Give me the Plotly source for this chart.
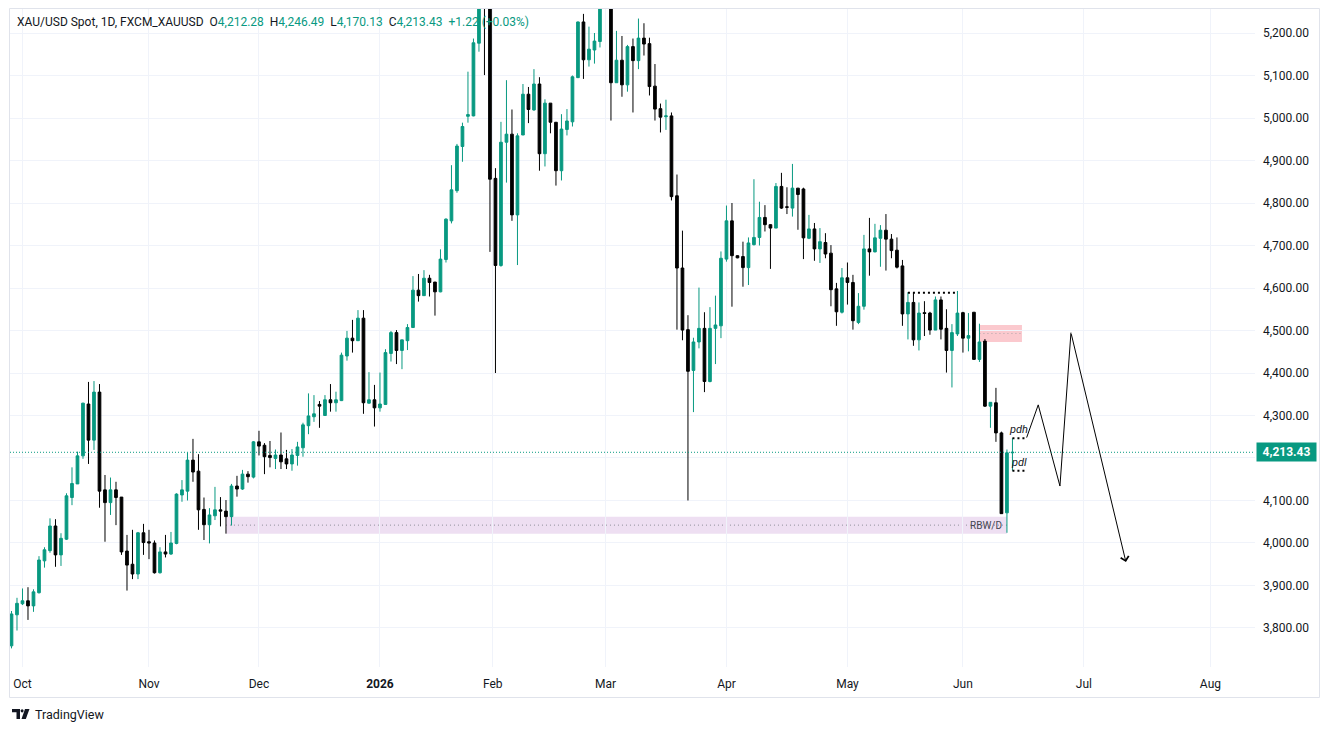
import pandas as pd
import plotly.graph_objects as go

# ---------------- categories: daily bars (weekdays, no Dec 25 / Jan 1 bars) ----------------
trade_days = pd.bdate_range("2025-09-29", "2026-06-12", freq="C",
                            holidays=["2025-12-25", "2026-01-01"])
bar_x = [(d + pd.Timedelta(hours=12)).strftime("%Y-%m-%d %H:%M") for d in trade_days]

# ---------------- OHLC series ----------------
opens = [
    3758, 3831, 3857, 3864, 3852, 3883, 3958, 3982, 4040, 3972,
    4009, 4107, 4139, 4205, 4327, 4242, 4355, 4125, 4095, 4125,
    4108, 3981, 3950, 3927, 4024, 4003, 4000, 3930, 3979, 3974,
    3999, 4113, 4122, 4195, 4169, 4079, 4043, 4064, 4078, 4075,
    4062, 4134, 4127, 4162, 4155, 4238, 4230, 4206, 4199, 4207,
    4198, 4186, 4206, 4224, 4276, 4297, 4326, 4300, 4337, 4330,
    4335, 4440, 4482, 4476, 4529, 4329, 4337, 4318, 4326, 4446,
    4495, 4453, 4476, 4507, 4595, 4582, 4623, 4614, 4591, 4667,
    4758, 4829, 4933, 5004, 5005, 5176, 5415, 5375, 4858, 4653,
    4943, 4962, 4772, 4960, 5056, 5019, 5080, 4916, 5035, 4990,
    4876, 4973, 4991, 5095, 5226, 5137, 5160, 5180, 5300, 5330,
    5083, 5136, 5078, 5168, 5135, 5188, 5175, 5075, 5022, 5003,
    5005, 4817, 4647, 4502, 4406, 4473, 4505, 4380, 4505, 4511,
    4668, 4758, 4676, 4674, 4648, 4702, 4719, 4766, 4749, 4741,
    4839, 4791, 4788, 4835, 4833, 4717, 4739, 4692, 4707, 4682,
    4598, 4543, 4624, 4613, 4519, 4557, 4692, 4685, 4717, 4736,
    4715, 4689, 4652, 4539, 4566, 4478, 4542, 4541, 4501, 4572,
    4505, 4453, 4492, 4542, 4482, 4543, 4432, 4475, 4322, 4330,
    4259, 4071, 4212.28,
]
highs = [
    3840, 3871, 3893, 3896, 3891, 3969, 3990, 4058, 4056, 4023,
    4117, 4178, 4215, 4330, 4379, 4381, 4374, 4160, 4154, 4144,
    4108, 4019, 4031, 4026, 4045, 4031, 4006, 3990, 4019, 4026,
    4117, 4148, 4213, 4245, 4209, 4107, 4082, 4132, 4108, 4101,
    4139, 4158, 4172, 4169, 4240, 4264, 4235, 4240, 4220, 4260,
    4219, 4221, 4238, 4283, 4352, 4348, 4334, 4348, 4374, 4356,
    4448, 4499, 4525, 4548, 4548, 4402, 4372, 4401, 4456, 4499,
    4501, 4478, 4515, 4628, 4633, 4642, 4631, 4614, 4691, 4764,
    4889, 4939, 4989, 5109, 5187, 5417, 5598, 5450, 4882, 4991,
    5089, 5020, 4964, 5080, 5073, 5115, 5096, 5044, 5035, 4990,
    5009, 5021, 5100, 5227, 5245, 5215, 5200, 5290, 5420, 5350,
    5205, 5193, 5172, 5187, 5234, 5223, 5189, 5127, 5034, 5043,
    5013, 4867, 4735, 4536, 4483, 4601, 4543, 4555, 4582, 4686,
    4794, 4800, 4677, 4709, 4719, 4856, 4803, 4795, 4750, 4847,
    4871, 4837, 4892, 4835, 4836, 4772, 4753, 4741, 4729, 4701,
    4612, 4647, 4660, 4631, 4588, 4725, 4765, 4751, 4748, 4774,
    4727, 4719, 4666, 4590, 4589, 4566, 4569, 4544, 4580, 4580,
    4550, 4515, 4593, 4544, 4541, 4543, 4516, 4480, 4331, 4365,
    4262, 4220, 4246.49,
]
lows = [
    3752, 3794, 3854, 3819, 3838, 3881, 3942, 3977, 3944, 3946,
    4007, 4089, 4139, 4198, 4186, 4219, 4083, 4003, 4066, 4042,
    3972, 3888, 3915, 3915, 3972, 3962, 3928, 3928, 3966, 3972,
    3997, 4097, 4100, 4144, 4031, 4007, 3999, 4054, 4039, 4022,
    4041, 4109, 4125, 4142, 4152, 4206, 4162, 4178, 4174, 4174,
    4174, 4170, 4182, 4203, 4256, 4285, 4271, 4299, 4309, 4309,
    4334, 4429, 4448, 4476, 4304, 4328, 4274, 4309, 4326, 4427,
    4421, 4409, 4454, 4506, 4568, 4582, 4580, 4535, 4590, 4660,
    4752, 4824, 4897, 4989, 5004, 5156, 5101, 4685, 4400, 4650,
    4848, 4758, 4654, 4960, 4988, 5017, 4876, 4886, 4964, 4841,
    4853, 4959, 4980, 5094, 5092, 5121, 5128, 5166, 5265, 4994,
    5083, 5050, 5062, 5013, 5115, 5147, 5053, 4994, 4966, 4972,
    4806, 4502, 4477, 4100, 4308, 4458, 4355, 4378, 4421, 4482,
    4662, 4556, 4670, 4603, 4607, 4700, 4700, 4733, 4645, 4741,
    4786, 4774, 4768, 4737, 4668, 4715, 4664, 4659, 4670, 4557,
    4511, 4540, 4561, 4502, 4515, 4549, 4629, 4684, 4650, 4641,
    4670, 4646, 4511, 4479, 4464, 4453, 4487, 4490, 4501, 4479,
    4401, 4366, 4487, 4448, 4451, 4432, 4426, 4320, 4271, 4238,
    4069, 4024, 4170.13,
]
closes = [
    3833, 3858, 3864, 3852, 3885, 3960, 3984, 4040, 3972, 4011,
    4111, 4140, 4205, 4329, 4242, 4355, 4122, 4095, 4125, 4107,
    3979, 3948, 3927, 4024, 4001, 4000, 3930, 3979, 3974, 4000,
    4115, 4125, 4195, 4167, 4078, 4043, 4066, 4078, 4075, 4062,
    4134, 4127, 4162, 4156, 4238, 4228, 4203, 4201, 4207, 4191,
    4186, 4207, 4226, 4278, 4299, 4304, 4322, 4337, 4330, 4337,
    4442, 4482, 4476, 4529, 4330, 4337, 4318, 4327, 4448, 4495,
    4453, 4478, 4507, 4595, 4582, 4623, 4613, 4591, 4668, 4762,
    4831, 4934, 4980, 5008, 5177, 5415, 5375, 4856, 4653, 4943,
    4962, 4772, 4958, 5056, 5020, 5080, 4916, 5035, 4990, 4876,
    4974, 4993, 5097, 5226, 5137, 5162, 5181, 5275, 5330, 5083,
    5136, 5078, 5168, 5135, 5188, 5174, 5074, 5021, 5002, 5005,
    4815, 4647, 4501, 4404, 4473, 4505, 4380, 4505, 4513, 4670,
    4758, 4676, 4671, 4648, 4706, 4719, 4766, 4749, 4741, 4839,
    4788, 4790, 4835, 4820, 4718, 4739, 4692, 4709, 4680, 4596,
    4544, 4624, 4613, 4523, 4557, 4692, 4685, 4718, 4736, 4715,
    4688, 4649, 4539, 4566, 4478, 4541, 4540, 4501, 4572, 4503,
    4453, 4495, 4541, 4482, 4488, 4432, 4473, 4322, 4331, 4259,
    4069, 4212.21, 4213.43,
]

# ---------------- axis ticks ----------------
month_tick_x = ["2025-10-01 12:00", "2025-11-03 12:00", "2025-12-01 12:00", "2026-01-02 12:00",
                "2026-02-02 00:00", "2026-03-02 12:00", "2026-04-01 12:00", "2026-05-01 12:00",
                "2026-06-01 12:00", "2026-07-01 12:00", "2026-08-03 12:00"]
month_tick_text = ["Oct", "Nov", "Dec", "<b>2026</b>", "Feb", "Mar", "Apr", "May", "Jun", "Jul", "Aug"]
price_ticks = [3800, 3900, 4000, 4100, 4200, 4300, 4400, 4500, 4600, 4700, 4800, 4900, 5000, 5100, 5200]
x_view = ["2025-09-29 05:30", "2026-08-13 14:30"]
y_view = [3708.2, 5256.5]

# ---------------- drawings ----------------
rbw_zone = [4022, 4062]          # purple zone low / high
supply_zone = [4473, 4513]       # pink zone low / high
supply_zone_end = "2026-06-16 05:30"
range_high_level = 4589          # dotted level over the late-May range
level_end = "2026-06-17 02:00"   # end of pdh / pdl lines
path_x = ["2026-06-17 02:00", "2026-06-19 04:30", "2026-06-25 03:20", "2026-06-29 03:20", "2026-07-13 03:20"]
path_y = [4248, 4325, 4134, 4495, 3955]

UP = "#089981"
DOWN = "#000000"
TXT = "#131722"
GRID = "#f0f3fa"
FONT = "Roboto"

# plot area in pixels
L, R, T, B = 10, 1255, 9, 667
W, H = R - L, B - T


def px(xp):
    return (xp - L) / W


def py(yp):
    return (B - yp) / H


# price-scale labels (the one under the last-price badge is covered, as on the chart)
price_tick_text = ["" if abs(v - closes[-1]) < 30 else f"{v:,.2f}" for v in price_ticks]

fig = go.Figure()
fig.add_trace(go.Candlestick(
    x=bar_x, open=opens, high=highs, low=lows, close=closes,
    increasing=dict(line=dict(color=UP, width=1), fillcolor=UP),
    decreasing=dict(line=dict(color=DOWN, width=1), fillcolor=DOWN),
    whiskerwidth=0, hoverinfo="skip", showlegend=False,
))

# projected path
fig.add_trace(go.Scatter(x=path_x[:-1], y=path_y[:-1], mode="lines",
                         line=dict(color="#000000", width=1), hoverinfo="skip", showlegend=False))

shapes = []
# purple RBW/D zone
shapes.append(dict(type="rect", xref="x", yref="y", x0=bar_x[39], x1=bar_x[181],
                   y0=rbw_zone[0], y1=rbw_zone[1], fillcolor="#eedff2", line=dict(width=0), layer="below"))
shapes.append(dict(type="line", xref="x", yref="y", x0=bar_x[39], x1=bar_x[181],
                   y0=sum(rbw_zone) / 2, y1=sum(rbw_zone) / 2,
                   line=dict(color="#8f8f99", width=1, dash="1px,3px"), layer="below"))
# pink zone
shapes.append(dict(type="rect", xref="x", yref="y", x0=bar_x[176], x1=supply_zone_end,
                   y0=supply_zone[0], y1=supply_zone[1], fillcolor="#fbc9ce", line=dict(width=0), layer="below"))
shapes.append(dict(type="line", xref="x", yref="y", x0=bar_x[176], x1=supply_zone_end,
                   y0=sum(supply_zone) / 2, y1=sum(supply_zone) / 2,
                   line=dict(color="#b0a6aa", width=1, dash="1px,3px"), layer="below"))
# dotted range high
shapes.append(dict(type="line", xref="x", yref="y", x0=bar_x[163], x1=bar_x[172],
                   y0=range_high_level, y1=range_high_level,
                   line=dict(color="#000000", width=2, dash="2px,3px")))
# pdh / pdl
for lvl in (highs[-1], lows[-1]):
    shapes.append(dict(type="line", xref="x", yref="y", x0=bar_x[182], x1=level_end,
                       y0=lvl, y1=lvl, line=dict(color="#000000", width=2, dash="2px,3px")))
# last price line
shapes.append(dict(type="line", xref="paper", yref="y", x0=0, x1=1, y0=closes[-1], y1=closes[-1],
                   line=dict(color=UP, width=1, dash="1px,2px")))
# chart frame
shapes.append(dict(type="rect", xref="paper", yref="paper", x0=px(9.5), x1=px(1319.5),
                   y0=py(697.5), y1=py(8.5), line=dict(color="#e0e3eb", width=1)))
# TradingView logo (simple glyph)
shapes.append(dict(type="path", xref="paper", yref="paper",
                   path=(f"M {px(12)} {py(709)} L {px(20)} {py(709)} L {px(20)} {py(719)} "
                         f"L {px(16.5)} {py(719)} L {px(16.5)} {py(712.3)} L {px(12)} {py(712.3)} Z"),
                   fillcolor="#131722", line=dict(width=0)))
shapes.append(dict(type="circle", xref="paper", yref="paper", x0=px(20.6), x1=px(23.6),
                   y0=py(712.4), y1=py(709.2), fillcolor="#131722", line=dict(width=0)))
shapes.append(dict(type="path", xref="paper", yref="paper",
                   path=(f"M {px(25)} {py(709)} L {px(29.5)} {py(709)} L {px(25.8)} {py(719)} "
                         f"L {px(21.5)} {py(719)} Z"),
                   fillcolor="#131722", line=dict(width=0)))

chg = closes[-1] - closes[-2]
pct = chg / closes[-2] * 100
V = f"<span style='color:{UP}'>"
header = ("XAU/USD Spot, 1D, FXCM_XAUUSD\u00a0\u00a0"
          f"O{V}{opens[-1]:,.2f}</span>\u00a0\u00a0"
          f"H{V}{highs[-1]:,.2f}</span>\u00a0\u00a0"
          f"L{V}{lows[-1]:,.2f}</span>\u00a0\u00a0"
          f"C{V}{closes[-1]:,.2f}</span>\u00a0\u00a0"
          f"{V}{chg:+.2f} ({pct:+.2f}%)</span>")

annotations = [
    dict(xref="paper", yref="paper", x=px(15), y=py(22), xanchor="left", yanchor="middle",
         text=header, showarrow=False, font=dict(family=FONT, size=12, color=TXT)),
    dict(xref="x", yref="y", x=bar_x[182], y=highs[-1], xanchor="left", yanchor="bottom",
         xshift=-5, yshift=0, text="<i>pdh</i>", showarrow=False,
         font=dict(family=FONT, size=11, color=TXT)),
    dict(xref="x", yref="y", x=bar_x[182], y=lows[-1], xanchor="left", yanchor="bottom",
         xshift=-3, yshift=0, text="<i>pdl</i>", showarrow=False,
         font=dict(family=FONT, size=11, color=TXT)),
    dict(xref="x", yref="y", x=bar_x[181], y=sum(rbw_zone) / 2, xanchor="right", yanchor="middle",
         xshift=-3, text="RBW/D", showarrow=False, font=dict(family=FONT, size=10, color="#434651")),
    dict(xref="x", yref="y", x=path_x[-1], y=path_y[-1], ax=path_x[-2], ay=path_y[-2],
         axref="x", ayref="y", showarrow=True, arrowhead=4, arrowsize=1.6, arrowwidth=1,
         arrowcolor="#000000", text=""),
    dict(xref="paper", yref="y", x=px(1256), y=closes[-1], xanchor="left", yanchor="middle",
         text=f"<b>{closes[-1]:,.2f}</b>", showarrow=False, bgcolor=UP, borderpad=2,
         width=55, font=dict(family=FONT, size=12, color="#ffffff")),
    dict(xref="paper", yref="paper", x=px(33), y=py(714), xanchor="left", yanchor="middle",
         text="TradingView", showarrow=False, font=dict(family=FONT, size=12.5, color=TXT)),
]

fig.update_layout(
    width=1330, height=732, autosize=False,
    margin=dict(l=L, r=1330 - R, t=T, b=732 - B),
    paper_bgcolor="#ffffff", plot_bgcolor="#ffffff",
    hovermode=False, showlegend=False,
    shapes=shapes, annotations=annotations,
    font=dict(family=FONT, size=12, color=TXT),
    xaxis=dict(
        type="date", range=x_view,
        rangebreaks=[dict(bounds=["sat", "mon"]), dict(values=["2025-12-25", "2026-01-01"])],
        tickmode="array", tickvals=month_tick_x, ticktext=month_tick_text,
        showgrid=True, gridcolor=GRID, gridwidth=1, zeroline=False, showline=False,
        ticks="", ticklabelstandoff=8, tickfont=dict(family=FONT, size=12, color=TXT),
        rangeslider=dict(visible=False), fixedrange=True,
    ),
    yaxis=dict(
        side="right", range=y_view, tickmode="array", tickvals=price_ticks, ticktext=price_tick_text,
        showgrid=True, gridcolor=GRID, gridwidth=1, zeroline=False, showline=False,
        ticks="", ticklabelstandoff=7, tickfont=dict(family=FONT, size=12, color=TXT),
        fixedrange=True,
    ),
)

fig.write_html("out.html")
